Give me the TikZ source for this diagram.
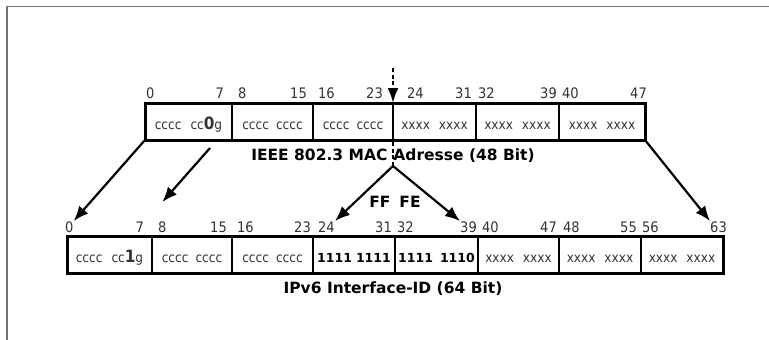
\documentclass[tikz,border=0pt]{standalone}
\usepackage{fontspec}
\setmainfont{DejaVu Sans}
\newfontfamily\narrowfamily{DejaVu Sans Condensed}
\usetikzlibrary{arrows.meta,positioning}

\newcommand{\cellfont}{\narrowfamily\fontsize{13.5}{15}\selectfont}
\newcommand{\numfont}{\narrowfamily\fontsize{14.5}{16}\selectfont}
\newcommand{\capfont}{\fontsize{15.5}{17}\selectfont\bfseries}
\newcommand{\flagbit}[1]{{\fontsize{17}{17}\selectfont\bfseries #1}}

\begin{document}
\begin{tikzpicture}[x=1pt, y=-1pt,
  cell/.style={draw, line width=2pt, minimum height=37pt, inner sep=0pt,
    outer sep=0pt, text height=16pt, text depth=0pt, font=\cellfont,
    text=black!80},
  bitno/.style={inner sep=0pt, font=\numfont, text=black!80},
  caption/.style={inner sep=0pt, font=\capfont},
  map/.style={line width=2.2pt, -{Latex[length=15pt,width=12pt]}},
  cutline/.style={line width=2.2pt, dash pattern=on 4pt off 2.5pt},
]
\useasboundingbox (0,0) rectangle (769,340);
\draw[line width=1.5pt, black!55] (769,6.5) -- (7,6.5) -- (7,340);

% MAC address, 48 bit
\node[cell, minimum width=87pt, anchor=north west] (m1) at (145,103)
  {cccc\hspace{9pt}cc\flagbit{0}g};
\node[cell, minimum width=81pt, right=0pt of m1] (m2) {cccc\hspace{7pt}cccc};
\node[cell, minimum width=80pt, right=0pt of m2] (m3) {cccc\hspace{7pt}cccc};
\node[cell, minimum width=83pt, right=0pt of m3] (m4) {xxxx\hspace{9pt}xxxx};
\node[cell, minimum width=83pt, right=0pt of m4] (m5) {xxxx\hspace{9pt}xxxx};
\node[cell, minimum width=86pt, right=0pt of m5] (m6) {xxxx\hspace{9pt}xxxx};
\draw[line width=3pt] (m1.north west) rectangle (m6.south east);

\foreach \x/\n/\side in {146/0/west, 224/7/east, 238/8/west, 307/15/east,
    318/16/west, 383/23/east, 407/24/west, 472/31/east, 478/32/west,
    557/39/east, 562/40/west, 647/47/east}
  \node[bitno, anchor=base \side] (t\n) at (\x,98) {\n};

\node[caption, anchor=base] (maccap) at (393,160)
  {IEEE 802.3 MAC\hspace{6pt}Adresse (48 Bit)};

% interface identifier, 64 bit
\node[cell, minimum width=85pt, anchor=north west] (n1) at (67,236)
  {cccc\hspace{9pt}cc\flagbit{1}g};
\node[cell, minimum width=80pt, right=0pt of n1] (n2) {cccc\hspace{7pt}cccc};
\node[cell, minimum width=81pt, right=0pt of n2] (n3) {cccc\hspace{7pt}cccc};
\node[cell, minimum width=82pt, right=0pt of n3, text=black,
  font=\fontsize{12.5}{14}\selectfont\bfseries] (n4) {1111\hspace{4pt}1111};
\node[cell, minimum width=83pt, right=0pt of n4, text=black,
  font=\fontsize{12.5}{14}\selectfont\bfseries] (n5) {1111\hspace{7pt}1110};
\node[cell, minimum width=81pt, right=0pt of n5] (n6) {xxxx\hspace{9pt}xxxx};
\node[cell, minimum width=82pt, right=0pt of n6] (n7) {xxxx\hspace{9pt}xxxx};
\node[cell, minimum width=82pt, right=0pt of n7] (n8) {xxxx\hspace{9pt}xxxx};
\draw[line width=3pt] (n1.north west) rectangle (n8.south east);

\foreach \x/\n/\side in {65/0/west, 144/7/east, 158/8/west, 227/15/east,
    237/16/west, 311/23/east, 318/24/west, 392/31/east, 397/32/west,
    477/39/east, 482/40/west, 557/47/east, 563/48/west, 637/55/east,
    642/56/west, 727/63/east}
  \node[bitno, anchor=base \side] (b\n) at (\x,232) {\n};

\node[caption, anchor=base] (idcap) at (393,293) {IPv6 Interface-ID (64 Bit)};
\node[caption, anchor=base] (ffe) at (395,207) {FF\hspace{9pt}FE};

% where FFFE goes in
\coordinate (cut) at (393,68);
\coordinate (split) at (393,166);
\draw[cutline, -{Latex[length=15pt,width=11pt]}] (cut) -- (m3.north east);
\draw[cutline] (m3.north east) -- (split);
\draw[map] (split) -- (b24.north east);
\draw[map] (split) -- (b39.north west);

\coordinate (ubit) at (210,148);
\draw[map] (m1.south west) -- (b0.north east);
\draw[map] (ubit) -- ([yshift=19pt]b8.north);
\draw[map] (m6.south east) -- (b63.north west);
\end{tikzpicture}
\end{document}
